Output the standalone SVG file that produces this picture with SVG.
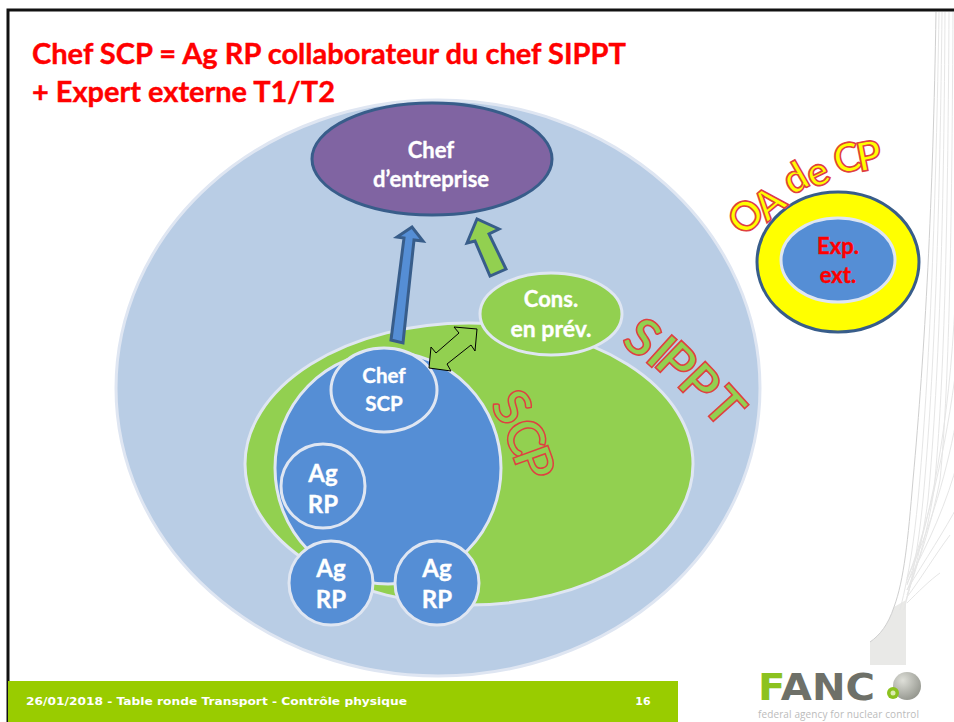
<svg xmlns="http://www.w3.org/2000/svg" width="954" height="722" viewBox="0 0 954 722">
<style>
text{font-family:"Lato","Open Sans",sans-serif;font-weight:700;text-anchor:middle}
.w{fill:#fff;font-size:22px;stroke:#fff;stroke-width:.35}
.a{font-size:24px}
.n{stroke:#dfe6f2;stroke-width:3}
.blue{fill:#558ed5}
.r{fill:#f00;stroke:#f00;stroke-width:.4}
.s{font-size:52px;stroke:#e04040;stroke-width:1.6;fill:#92d050}
.o{font-size:40px;stroke:#e04040;stroke-width:1.6;fill:#ff0}
.c{font-size:51px;stroke:#e04040;stroke-width:1.5;fill:#92d050}
.arr{stroke:#385d8a;stroke-width:3;stroke-linejoin:miter}
.deco{fill:none;stroke:#e6e6e6;stroke-width:1}
</style>
<defs>
<radialGradient id="sph" cx=".35" cy=".3" r=".8"><stop offset="0" stop-color="#dedfd8"/><stop offset="1" stop-color="#8f9189"/></radialGradient>
</defs>
<rect width="954" height="722" fill="#fff"/>
<g id="decoration">
<path fill="#e9e9e7" d="M894 607C888 625 880 635 870 642V665H906V600Z"/>
<path class="deco" d="M936 12C933 200 925 350 913 480C908 540 904 580 894 607C888 625 880 635 870 642" style="stroke:#cfcfcf"/>
<path class="deco" d="M939 12C936 200 930 370 918 500C914 540 910 570 900 610"/>
<path class="deco" d="M942 12C940 200 935 370 923 500C918 550 912 580 904 610"/>
<path class="deco" d="M945 12C944 200 940 370 928 500C922 545 914 575 906 600"/>
<path class="deco" d="M949 12C948 200 945 380 934 490C926 540 916 570 907 595"/>
<path class="deco" d="M953 12C952 200 950 380 940 480C930 530 918 565 907 590"/>
<path class="deco" d="M956 280C952 400 935 510 907 585"/>
<path class="deco" d="M958 350C950 430 930 520 907 580"/>
<path class="deco" d="M958 410C948 470 930 530 907 578"/>
<path class="deco" d="M958 460C948 500 928 545 907 583"/>
<path class="deco" d="M958 505C945 530 925 560 907 590"/>
<path class="deco" d="M950 535C935 555 920 580 907 597"/>
<path class="deco" d="M940 573C930 580 918 592 907 603"/>
</g>
<path id="frame" d="M8 722V10H954" fill="none" stroke="#111" stroke-width="3"/>
<g id="footer">
<rect x="8" y="681" width="670" height="41" fill="#99cc00"/>
<text x="26" y="705" style="font-family:'DejaVu Sans';font-size:11px;text-anchor:start;fill:#fff" textLength="381" lengthAdjust="spacingAndGlyphs">26/01/2018 - Table ronde Transport - Contrôle physique</text>
<text x="643" y="705" style="font-family:'DejaVu Sans';font-size:11px;fill:#fff">16</text>
</g>
<g id="title">
<text class="r" x="32" y="64" style="font-size:29px;text-anchor:start" textLength="594" lengthAdjust="spacingAndGlyphs">Chef SCP = Ag RP collaborateur du chef SIPPT</text>
<text class="r" x="32" y="102" style="font-size:29px;text-anchor:start" textLength="303" lengthAdjust="spacingAndGlyphs">+ Expert externe T1/T2</text>
</g>
<g id="sippt"><ellipse class="n" cx="438" cy="388" rx="322" ry="288" fill="#b9cde5"/></g>
<g id="green"><ellipse class="n" cx="469" cy="464" rx="224" ry="141" fill="#92d050"/></g>
<g id="scp"><ellipse class="n blue" cx="388" cy="468" rx="113" ry="116"/></g>
<g id="chef-entreprise">
<ellipse cx="432" cy="159" rx="120" ry="56" fill="#8064a2" stroke="#385d8a" stroke-width="3"/>
<text class="w" x="431" y="158">Chef</text><text class="w" x="431" y="187">d’entreprise</text>
</g>
<g id="cons">
<ellipse class="n" cx="551" cy="314" rx="71" ry="41" fill="#92d050"/>
<text class="w" x="551" y="307">Cons.</text><text class="w" x="551" y="337" style="font-size:23px">en prév.</text>
</g>
<g id="chef-scp">
<ellipse class="n blue" cx="384" cy="390" rx="53" ry="42"/>
<text class="w" x="384" y="383" style="font-size:20.5px">Chef</text><text class="w" x="384" y="411" style="font-size:20.5px">SCP</text>
</g>
<g id="ag1"><circle class="n blue" cx="323" cy="486" r="42"/><text class="w a" x="323" y="482">Ag</text><text class="w a" x="323" y="513">RP</text></g>
<g id="ag2"><circle class="n blue" cx="331" cy="583" r="42"/><text class="w a" x="331" y="577">Ag</text><text class="w a" x="331" y="608">RP</text></g>
<g id="ag3"><circle class="n blue" cx="437" cy="583" r="42"/><text class="w a" x="437" y="577">Ag</text><text class="w a" x="437" y="608">RP</text></g>
<g id="oa">
<ellipse cx="838" cy="262" rx="81" ry="70" fill="#ff0" stroke="#385d8a" stroke-width="3"/>
<ellipse class="n blue" cx="838" cy="260" rx="57" ry="42"/>
<text class="r" x="838" y="254" style="font-size:22px">Exp.</text><text class="r" x="838" y="283" style="font-size:22px">ext.</text>
</g>
<g id="connectors">
<path class="arr" fill="#558ed5" d="M391 340L404 238L397 237L412 227L423 241L414 240L403 343Z"/>
<path class="arr" fill="#92d050" d="M490 276L475 241L467 243L477 219L499 229L489 234L506 269Z"/>
<path fill="#92d050" stroke="#000" d="M429 368L431 347L436 353L459 333L454 327L477 329L475 351L471 345L447 364L451 371Z"/>
</g>
<g id="labels">
<text class="s" transform="translate(643 337) rotate(38)" y="19">S</text>
<text class="s" transform="translate(662 351) rotate(42)" y="19">I</text>
<text class="s" transform="translate(677 362) rotate(44)" y="19">P</text>
<text class="s" transform="translate(700 383) rotate(46)" y="19">P</text>
<text class="s" transform="translate(725 406) rotate(48)" y="19">T</text>
<text class="c" transform="translate(512 407) rotate(55)" y="18">S</text>
<text class="c" transform="translate(525 437) rotate(65)" y="18">C</text>
<text class="c" transform="translate(534 463) rotate(70)" y="18">P</text>
<text class="o" transform="translate(746 216) rotate(-50)" y="14">O</text>
<text class="o" transform="translate(769 203) rotate(-40)" y="14">A</text>
<text class="o" transform="translate(795 178) rotate(-30)" y="14">d</text>
<text class="o" transform="translate(817 172) rotate(-26)" y="14">e</text>
<text class="o" transform="translate(847 158) rotate(-15)" y="14">C</text>
<text class="o" transform="translate(869 156) rotate(-11)" y="14">P</text>
</g>
<g id="logo">
<text x="758" y="700" style="font-family:'DejaVu Sans';font-size:38px;text-anchor:start;fill:#6e7068" textLength="117" lengthAdjust="spacingAndGlyphs"><tspan fill="#8cc21f">F</tspan>ANC</text>
<circle cx="907" cy="686" r="14" fill="url(#sph)"/><circle cx="893" cy="693" r="6" fill="#8cc21f"/><circle cx="893" cy="693" r="2.5" fill="#dcecb0"/>
<text x="758" y="718" style="font-family:'Open Sans';font-size:10px;font-weight:400;text-anchor:start;fill:#bbb" textLength="161">federal agency for nuclear control</text>
</g>
</svg>
